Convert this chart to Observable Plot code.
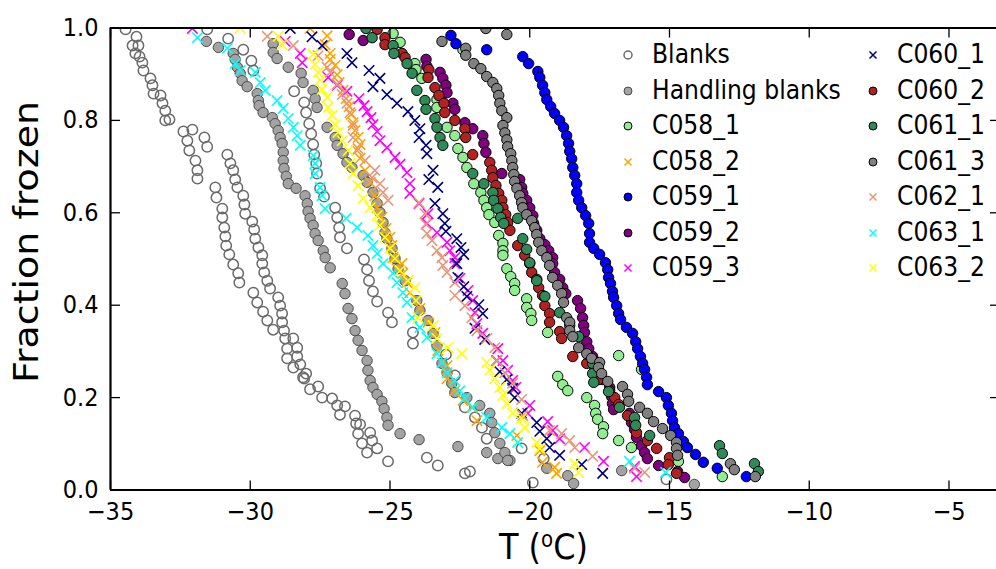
<!DOCTYPE html>
<html><head><meta charset="utf-8">
<script src="https://cdn.jsdelivr.net/npm/d3@7"></script>
<script src="https://cdn.jsdelivr.net/npm/@observablehq/plot@0.6"></script>
<style>
body{margin:0;background:#fff;}
#wrap{position:relative;width:996px;height:569px;overflow:hidden;font-family:"DejaVu Sans",sans-serif;}
.leg{position:absolute;font-size:23.5px;line-height:1;color:#000;white-space:nowrap;display:flex;align-items:center;height:24px;}
.leg svg{flex:none;}
.leg span{margin-left:18px;display:inline-block;transform:scaleY(1.15);}
</style></head><body><div id="wrap"></div>
<script>
// ---- data: [temperature °C, fraction frozen] ----
const blanks = [
[-34.46,0.997],[-34.07,0.981],[-34.21,0.962],[-34.00,0.962],[-34.11,0.945],[-33.96,0.938],[-33.86,0.925],[-33.82,0.908],[-33.57,0.891],[-33.50,0.876],[-33.46,0.858],[-33.21,0.854],[-33.14,0.837],[-33.04,0.821],[-33.04,0.800],[-32.89,0.802],[-32.39,0.776],[-32.07,0.780],[-32.25,0.756],[-31.64,0.763],[-32.18,0.735],[-31.54,0.743],[-31.96,0.713],[-31.89,0.692],[-31.89,0.674],
[-31.25,0.655],[-31.21,0.633],[-31.00,0.609],[-31.00,0.590],[-30.93,0.568],[-30.89,0.549],[-30.86,0.529],[-30.75,0.510],[-30.61,0.488],[-30.43,0.469],[-30.39,0.449],[-29.89,0.427],[-29.75,0.406],[-29.54,0.386],[-29.39,0.367],[-29.18,0.347],[-28.75,0.328],[-28.68,0.306],[-28.68,0.285],[-28.46,0.265],[-28.11,0.244],[-27.86,0.218],[-27.57,0.224],[-27.43,0.200],[-27.07,0.198],[-26.89,0.183],[-26.61,0.181],[-26.79,0.163],
[-31.54,0.997],[-30.82,0.726],[-30.71,0.707],[-30.61,0.692],[-30.54,0.672],[-30.46,0.655],[-30.25,0.637],[-30.21,0.618],[-30.18,0.598],[-29.93,0.581],[-29.86,0.564],[-29.82,0.544],[-29.71,0.525],[-29.57,0.508],[-29.57,0.490],[-29.50,0.471],[-29.39,0.453],[-29.29,0.436],[-29.00,0.417],[-28.93,0.399],[-28.86,0.382],[-28.86,0.363],[-28.79,0.345],[-28.46,0.328],[-28.32,0.308],[-28.32,0.289],[-28.21,0.272],[-28.00,0.252],[-28.07,0.241],
[-30.79,0.977],[-30.25,0.953],[-29.96,0.929],[-29.89,0.908],[-28.43,0.863],[-28.07,0.839],[-28.00,0.817],[-27.89,0.793],[-27.82,0.771],[-27.75,0.748],[-27.71,0.726],[-27.64,0.707],[-27.61,0.685],[-27.50,0.653],[-27.36,0.635],[-26.96,0.611],[-26.89,0.590],[-26.82,0.568],[-26.79,0.547],[-26.54,0.523],[-25.93,0.499],[-25.82,0.477],[-25.75,0.453],[-25.61,0.430],[-25.46,0.408],[-25.07,0.384],[-24.93,0.363],[-24.18,0.341],[-24.18,0.317],
[-26.25,0.161],[-26.21,0.144],[-26.07,0.142],[-26.14,0.122],[-25.71,0.124],[-25.64,0.107],[-26.00,0.101],[-25.46,0.090],[-25.82,0.081],[-25.07,0.062],[-23.68,0.070],[-23.29,0.053],[-22.32,0.036],[-22.14,0.040],
[-23.00,0.293],[-22.68,0.248],[-22.32,0.179],[-21.96,0.157],[-21.71,0.135],[-21.54,0.111],[-20.29,0.090],[-19.50,0.068],[-19.89,0.016],[-15.11,0.023]
];
const handlingBlanks = [
[-31.57,0.971],[-31.14,0.958],[-30.61,0.945],[-30.54,0.932],[-30.46,0.915],[-30.36,0.902],[-30.29,0.886],[-30.11,0.873],[-29.75,0.858],[-29.71,0.843],[-29.68,0.832],[-29.54,0.817],[-29.21,0.806],[-29.11,0.793],[-29.00,0.778],[-28.93,0.763],[-28.86,0.750],[-28.82,0.731],[-28.82,0.713],[-28.79,0.696],[-28.71,0.679],[-28.64,0.663],[-28.36,0.653],[-28.04,0.637],[-27.96,0.620],[-27.93,0.603],[-27.86,0.588],[-27.75,0.573],[-27.68,0.555],[-27.57,0.540],[-27.39,0.518],[-27.32,0.503],[-27.14,0.481],[-26.71,0.447],[-26.61,0.425],[-26.50,0.393],[-26.36,0.371],[-26.25,0.345],[-26.14,0.324],[-26.00,0.302],[-25.82,0.280],[-25.79,0.259],[-25.71,0.237],[-25.61,0.222],[-25.46,0.207],[-25.29,0.192],[-25.21,0.176],[-25.11,0.157],[-25.07,0.140],[-24.64,0.122],[-23.96,0.109],[-22.57,0.094],[-21.54,0.081],[-21.14,0.068],[-20.71,0.064],
[-29.18,0.966],[-29.18,0.947],[-29.04,0.934],[-28.64,0.915],[-28.18,0.902],[-28.11,0.882],[-27.75,0.865],[-27.68,0.847],[-27.61,0.828],[-27.25,0.785],[-26.96,0.763],[-26.89,0.746],[-26.68,0.728],[-26.54,0.709],[-26.36,0.698],[-25.96,0.681],[-25.82,0.666],[-25.61,0.644],[-25.46,0.620],[-25.36,0.601],[-25.25,0.579],[-25.18,0.557],[-25.11,0.544],[-24.93,0.523],[-24.82,0.501],[-24.71,0.479],[-24.46,0.453],[-24.04,0.410],[-23.93,0.389],[-23.64,0.367],[-23.46,0.339],[-23.32,0.313],[-23.14,0.274],[-22.96,0.254],[-22.79,0.231],[-22.68,0.211],[-22.25,0.200],[-21.79,0.183],[-21.43,0.166],[-21.36,0.146],[-21.25,0.124],[-21.07,0.101],[-20.89,0.081],[-20.79,0.064],[-19.39,0.047],[-18.64,0.031],[-18.43,0.014],[-16.71,0.042],[-14.11,0.012]
];
const c058_1 = [
[-24.89,0.988],[-24.64,0.969],[-22.39,0.953],[-24.11,0.923],[-24.07,0.910],[-23.86,0.891],[-23.32,0.845],[-23.32,0.828],[-22.96,0.785],[-22.68,0.767],[-22.57,0.739],[-22.39,0.720],[-22.25,0.698],[-22.00,0.663],[-21.75,0.644],[-21.64,0.627],[-21.54,0.611],[-21.46,0.596],[-21.25,0.579],[-21.11,0.551],[-20.96,0.534],[-20.96,0.518],[-20.96,0.508],[-20.82,0.479],[-20.68,0.462],[-20.54,0.447],[-20.54,0.432],[-20.11,0.414],[-20.11,0.395],[-19.96,0.382],[-19.93,0.367],[-19.36,0.341],[-16.82,0.291],[-16.00,0.261],[-19.00,0.246],[-18.82,0.228],[-18.64,0.215],[-17.96,0.200],[-17.68,0.183],[-17.64,0.166],[-17.57,0.153],[-17.36,0.137],[-17.39,0.122],[-16.82,0.107],[-16.36,0.092],[-14.68,0.062],[-13.11,0.029]
];
const c058_2 = [
[-27.86,0.999],[-27.25,0.983],[-27.32,0.964],[-27.14,0.945],[-27.14,0.932],[-26.96,0.919],[-26.89,0.899],[-26.82,0.882],[-26.68,0.865],[-26.57,0.847],[-26.46,0.830],[-26.39,0.813],[-26.32,0.795],[-26.25,0.778],[-26.14,0.763],[-26.07,0.748],[-26.18,0.735],[-26.07,0.718],[-25.89,0.692],[-25.71,0.666],[-25.54,0.637],[-25.46,0.611],[-25.29,0.590],[-25.14,0.566],[-25.00,0.547],[-24.93,0.529],[-24.89,0.503],[-24.57,0.490],[-24.75,0.479],[-24.54,0.469],[-24.39,0.449],[-24.29,0.427],[-23.93,0.393],[-23.64,0.363],[-23.39,0.341],[-23.29,0.302],[-22.96,0.269],[-22.96,0.241],[-22.68,0.215],[-22.39,0.194],[-22.07,0.179],[-21.89,0.150],[-20.46,0.118],[-19.64,0.085],[-19.54,0.060],[-19.11,0.049],[-19.04,0.036]
];
const c059_1 = [
[-22.82,0.984],[-22.64,0.966],[-21.54,0.953],[-20.25,0.938],[-20.04,0.923],[-19.71,0.906],[-19.64,0.893],[-19.54,0.876],[-19.46,0.860],[-19.39,0.845],[-19.25,0.830],[-19.11,0.815],[-18.93,0.800],[-18.79,0.785],[-18.68,0.767],[-18.61,0.750],[-18.57,0.733],[-18.50,0.717],[-18.46,0.698],[-18.39,0.681],[-18.32,0.663],[-18.32,0.644],[-18.25,0.627],[-18.14,0.611],[-18.00,0.594],[-17.89,0.577],[-17.86,0.555],[-17.86,0.536],[-17.71,0.523],[-17.50,0.510],[-17.29,0.492],[-17.21,0.477],[-17.18,0.460],[-17.11,0.447],[-17.04,0.430],[-17.00,0.417],[-16.89,0.399],[-16.82,0.382],[-16.75,0.369],[-16.54,0.352],[-16.32,0.339],[-16.21,0.321],[-16.14,0.306],[-16.04,0.289],[-15.96,0.274],[-15.89,0.261],[-15.82,0.244],[-15.79,0.228],[-15.39,0.213],[-15.11,0.200],[-15.04,0.183],[-14.93,0.166],[-14.89,0.150],[-14.82,0.135],[-14.68,0.122],[-14.50,0.105],[-14.36,0.092],[-14.07,0.077],[-13.79,0.060],[-13.29,0.047],[-12.25,0.029]
];
const c059_2 = [
[-26.46,0.986],[-25.96,0.973],[-23.71,0.932],[-23.68,0.917],[-23.21,0.904],[-23.11,0.891],[-23.00,0.876],[-22.96,0.860],[-22.75,0.837],[-22.68,0.824],[-22.32,0.795],[-22.04,0.782],[-21.68,0.767],[-21.64,0.750],[-21.57,0.731],[-21.00,0.685],[-20.36,0.672],[-20.29,0.655],[-20.25,0.642],[-20.11,0.627],[-20.00,0.611],[-19.89,0.594],[-19.86,0.577],[-19.75,0.562],[-19.64,0.544],[-19.46,0.531],[-19.32,0.518],[-19.18,0.503],[-19.18,0.490],[-19.11,0.471],[-18.93,0.456],[-18.82,0.438],[-18.71,0.425],[-18.29,0.410],[-18.18,0.393],[-18.11,0.373],[-18.07,0.356],[-18.04,0.341],[-17.96,0.321],[-17.89,0.306],[-17.75,0.289],[-17.71,0.272],[-17.57,0.254],[-17.39,0.239],[-17.14,0.222],[-17.07,0.202],[-17.04,0.187],[-17.00,0.174],[-16.43,0.166],[-16.36,0.146],[-16.25,0.131],[-16.18,0.114],[-16.00,0.096],[-15.89,0.081],[-15.79,0.068],[-15.39,0.053],[-14.71,0.040],[-14.46,0.027]
];
const c059_3 = [
[-32.07,0.999],[-28.75,0.971],[-28.21,0.945],[-28.14,0.925],[-27.21,0.893],[-26.89,0.876],[-26.54,0.863],[-26.11,0.847],[-25.93,0.832],[-25.82,0.819],[-25.68,0.806],[-25.61,0.791],[-25.46,0.776],[-25.36,0.756],[-25.11,0.741],[-24.82,0.720],[-24.64,0.705],[-24.39,0.687],[-24.29,0.663],[-24.29,0.642],[-23.96,0.620],[-23.64,0.598],[-23.68,0.577],[-23.32,0.557],[-22.96,0.536],[-22.86,0.518],[-22.68,0.503],[-22.68,0.490],[-22.50,0.458],[-22.21,0.432],[-22.04,0.410],[-21.96,0.384],[-21.89,0.360],[-21.68,0.339],[-21.14,0.306],[-20.96,0.280],[-20.79,0.259],[-20.61,0.237],[-20.50,0.222],[-20.00,0.183],[-20.07,0.166],[-19.36,0.148],[-19.18,0.129],[-18.93,0.111],[-18.04,0.092],[-17.36,0.062],[-16.25,0.051],[-16.18,0.029]
];
const c060_1 = [
[-28.57,0.999],[-27.79,0.981],[-27.43,0.962],[-26.54,0.945],[-26.36,0.925],[-25.75,0.908],[-25.36,0.891],[-25.61,0.873],[-25.11,0.856],[-24.75,0.837],[-24.36,0.819],[-24.11,0.800],[-23.93,0.782],[-23.96,0.763],[-23.71,0.746],[-23.68,0.728],[-23.46,0.692],[-23.61,0.672],[-23.29,0.655],[-23.39,0.620],[-23.11,0.598],[-23.04,0.577],[-23.00,0.560],[-22.61,0.544],[-22.46,0.525],[-22.36,0.510],[-22.61,0.490],[-22.57,0.460],[-22.36,0.440],[-22.25,0.419],[-21.82,0.401],[-21.68,0.382],[-21.96,0.350],[-21.61,0.326],[-21.18,0.280],[-21.07,0.256],[-20.82,0.239],[-20.61,0.220],[-20.54,0.200],[-20.29,0.166],[-19.75,0.146],[-19.64,0.127],[-19.39,0.111],[-19.29,0.092],[-18.93,0.075],[-18.14,0.055],[-17.39,0.036]
];
const c060_2 = [
[-25.46,0.997],[-25.18,0.979],[-25.18,0.964],[-24.57,0.945],[-24.46,0.936],[-23.61,0.910],[-23.64,0.893],[-23.39,0.871],[-23.25,0.854],[-23.07,0.837],[-23.04,0.817],[-22.68,0.800],[-22.32,0.782],[-22.29,0.763],[-22.04,0.726],[-21.43,0.709],[-21.36,0.692],[-21.32,0.676],[-21.21,0.659],[-21.11,0.642],[-21.00,0.627],[-20.96,0.611],[-20.86,0.596],[-20.79,0.579],[-20.71,0.562],[-20.43,0.529],[-20.18,0.508],[-20.00,0.490],[-19.93,0.471],[-19.75,0.456],[-19.68,0.438],[-19.54,0.421],[-19.46,0.399],[-19.29,0.382],[-19.29,0.363],[-18.93,0.343],[-18.86,0.328],[-18.46,0.289],[-17.96,0.274],[-17.68,0.259],[-17.54,0.239],[-17.14,0.215],[-16.96,0.200],[-16.82,0.185],[-16.50,0.161],[-16.25,0.144],[-16.18,0.124],[-15.79,0.107],[-15.46,0.090],[-15.00,0.070],[-15.04,0.055],[-14.75,0.036]
];
const c061_1 = [
[-25.86,0.999],[-25.64,0.979],[-24.89,0.962],[-24.86,0.945],[-24.39,0.923],[-24.21,0.902],[-24.04,0.865],[-23.75,0.843],[-23.71,0.824],[-23.39,0.804],[-23.32,0.785],[-23.21,0.763],[-23.11,0.746],[-22.04,0.685],[-21.64,0.663],[-21.32,0.644],[-21.29,0.627],[-21.14,0.609],[-21.04,0.590],[-20.93,0.577],[-20.43,0.588],[-20.25,0.544],[-20.11,0.521],[-20.00,0.492],[-19.75,0.453],[-19.46,0.419],[-18.93,0.384],[-18.57,0.356],[-18.25,0.332],[-17.93,0.293],[-17.75,0.274],[-17.75,0.252],[-17.71,0.233],[-17.18,0.213],[-16.79,0.179],[-16.25,0.157],[-16.21,0.140],[-15.71,0.118],[-13.21,0.096],[-13.11,0.079],[-11.96,0.057],[-11.82,0.040]
];
const c061_3 = [
[-21.57,0.999],[-20.82,0.986],[-23.14,0.971],[-22.29,0.956],[-22.29,0.941],[-22.00,0.923],[-21.75,0.912],[-21.54,0.895],[-21.32,0.882],[-21.18,0.869],[-21.11,0.854],[-21.07,0.837],[-21.00,0.821],[-20.82,0.806],[-20.96,0.789],[-20.89,0.773],[-20.82,0.758],[-20.79,0.743],[-20.68,0.728],[-20.64,0.713],[-20.61,0.698],[-20.57,0.683],[-20.54,0.668],[-20.46,0.653],[-20.36,0.637],[-20.29,0.622],[-20.25,0.611],[-20.11,0.596],[-19.93,0.583],[-19.82,0.568],[-19.75,0.553],[-19.68,0.536],[-19.57,0.518],[-19.39,0.503],[-19.29,0.486],[-19.18,0.460],[-19.00,0.443],[-18.86,0.425],[-18.79,0.406],[-18.68,0.373],[-18.57,0.363],[-18.57,0.345],[-18.46,0.332],[-18.25,0.308],[-17.96,0.295],[-17.79,0.285],[-17.50,0.276],[-17.54,0.265],[-17.43,0.252],[-17.21,0.235],[-16.68,0.224],[-16.50,0.207],[-16.46,0.192],[-16.07,0.179],[-15.79,0.166],[-15.57,0.148],[-15.25,0.133],[-14.96,0.118],[-14.75,0.103],[-14.75,0.090],[-14.71,0.075],[-12.82,0.057],[-12.68,0.044],[-11.93,0.029]
];
const c062_1 = [
[-29.39,0.982],[-28.46,0.962],[-27.57,0.940],[-27.25,0.915],[-27.14,0.904],[-26.89,0.878],[-26.71,0.856],[-26.54,0.837],[-26.43,0.817],[-26.32,0.789],[-26.32,0.763],[-26.14,0.739],[-25.89,0.713],[-25.54,0.692],[-25.64,0.676],[-25.36,0.663],[-25.25,0.644],[-25.07,0.627],[-23.96,0.622],[-23.75,0.598],[-23.71,0.575],[-23.68,0.555],[-23.50,0.540],[-23.32,0.518],[-23.14,0.503],[-23.11,0.486],[-22.96,0.471],[-22.68,0.449],[-22.68,0.421],[-22.32,0.399],[-22.07,0.373],[-21.89,0.345],[-21.54,0.328],[-21.25,0.308],[-21.18,0.280],[-20.89,0.254],[-20.61,0.231],[-20.29,0.196],[-20.25,0.161],[-19.29,0.129],[-18.86,0.122],[-18.57,0.107],[-18.39,0.092],[-17.75,0.073],[-16.25,0.047],[-15.89,0.038]
];
const c063_1 = [
[-31.89,0.979],[-30.82,0.956],[-30.54,0.923],[-30.36,0.908],[-29.82,0.904],[-29.64,0.882],[-29.46,0.865],[-29.04,0.843],[-28.82,0.826],[-28.64,0.804],[-28.46,0.785],[-28.32,0.767],[-28.21,0.746],[-27.75,0.724],[-27.68,0.707],[-27.68,0.685],[-27.50,0.655],[-27.43,0.637],[-27.32,0.609],[-26.57,0.588],[-26.18,0.568],[-25.79,0.551],[-25.61,0.529],[-25.46,0.512],[-25.25,0.490],[-24.89,0.469],[-24.75,0.449],[-24.54,0.427],[-24.39,0.406],[-24.21,0.373],[-23.93,0.352],[-23.68,0.330],[-23.32,0.295],[-23.14,0.276],[-22.96,0.254],[-22.68,0.237],[-22.50,0.215],[-22.32,0.198],[-22.04,0.179],[-21.54,0.157],[-21.00,0.135],[-20.71,0.122],[-20.43,0.103],[-16.43,0.062],[-15.14,0.038]
];
const c063_2 = [
[-30.36,1.000],[-29.00,0.982],[-28.86,0.964],[-27.75,0.943],[-27.68,0.921],[-27.57,0.904],[-27.50,0.887],[-27.43,0.867],[-27.25,0.850],[-27.21,0.828],[-27.07,0.811],[-26.96,0.791],[-26.86,0.774],[-26.71,0.756],[-26.50,0.735],[-26.43,0.707],[-26.32,0.685],[-26.14,0.659],[-25.96,0.631],[-25.71,0.611],[-25.46,0.594],[-25.36,0.573],[-25.18,0.547],[-25.00,0.523],[-24.82,0.501],[-24.64,0.475],[-24.36,0.453],[-24.11,0.438],[-24.07,0.410],[-24.00,0.373],[-23.46,0.356],[-23.32,0.328],[-22.93,0.308],[-22.43,0.295],[-21.54,0.276],[-21.43,0.259],[-21.25,0.241],[-21.07,0.222],[-20.96,0.205],[-20.82,0.187],[-20.61,0.166],[-20.29,0.155],[-20.18,0.135],[-19.75,0.103],[-19.64,0.090],[-18.39,0.057],[-18.25,0.038]
];

const seriesNames = ["Blanks","Handling blanks","C058_1","C058_2","C059_1","C059_2","C059_3",
                     "C060_1","C060_2","C061_1","C061_3","C062_1","C063_1","C063_2"];
const seriesData = {"Blanks":blanks,"Handling blanks":handlingBlanks,"C058_1":c058_1,"C058_2":c058_2,
  "C059_1":c059_1,"C059_2":c059_2,"C059_3":c059_3,"C060_1":c060_1,"C060_2":c060_2,
  "C061_1":c061_1,"C061_3":c061_3,"C062_1":c062_1,"C063_1":c063_1,"C063_2":c063_2};
const xTicks = [-35,-30,-25,-20,-15,-10,-5];
const yTicks = [0.0,0.2,0.4,0.6,0.8,1.0];

// ---- styles ----
const styles = {
  "Blanks":         {kind:"o", fill:"none",    stroke:"#6a6a6a", sw:1.5},
  "Handling blanks":{kind:"o", fill:"#a3a3a3", stroke:"#4a4a4a", sw:1},
  "C058_1":         {kind:"o", fill:"#90ee90", stroke:"#000", sw:1},
  "C058_2":         {kind:"x", stroke:"#ffa500"},
  "C059_1":         {kind:"o", fill:"#0000ff", stroke:"#000", sw:1},
  "C059_2":         {kind:"o", fill:"#800080", stroke:"#000", sw:1},
  "C059_3":         {kind:"x", stroke:"#ff00ff"},
  "C060_1":         {kind:"x", stroke:"#000080"},
  "C060_2":         {kind:"o", fill:"#b22222", stroke:"#000", sw:1},
  "C061_1":         {kind:"o", fill:"#2e8b57", stroke:"#000", sw:1},
  "C061_3":         {kind:"o", fill:"#808080", stroke:"#000", sw:1},
  "C062_1":         {kind:"x", stroke:"#e9967a"},
  "C063_1":         {kind:"x", stroke:"#00ffff"},
  "C063_2":         {kind:"x", stroke:"#ffff00"}
};

const dotMarks = seriesNames.map(name => {
  const s = styles[name];
  const rows = seriesData[name].map(([T, f]) => ({T, f}));
  if (s.kind === "o") {
    return Plot.dot(rows, {x:"T", y:"f", r:5.2, fill:s.fill, stroke:s.stroke, strokeWidth:s.sw, clip:true});
  }
  return Plot.dot(rows, {x:"T", y:"f", r:4.8, symbol:"times", stroke:s.stroke, strokeWidth:1.6, clip:true});
});

const FONT = "DejaVu Sans";
const X_LABEL = "T (oC)";
const chart = Plot.plot({
  width: 996, height: 569,
  marginLeft: 110, marginRight: 0, marginTop: 27.5, marginBottom: 79.5,
  x: {domain: [-35, -3.3]},
  y: {domain: [0, 1]},
  style: {fontFamily: FONT, background: "#fff", color: "#000", overflow: "visible"},
  marks: [
    ...dotMarks,
    Plot.ruleX([-35], {strokeWidth: 2.2}),
    Plot.ruleY([0, 1], {strokeWidth: 2.2}),
    Plot.axisX(xTicks, {anchor: "bottom", tickSize: -9, tickPadding: 21, fontSize: 22.5, label: null, strokeWidth: 1.3}),
    Plot.axisX(xTicks, {anchor: "top", tickSize: -9, tickFormat: () => "", label: null, strokeWidth: 1.3}),
    Plot.axisY(yTicks, {anchor: "left", tickSize: -10, tickPadding: 22, tickFormat: d3.format(".1f"), fontSize: 22.5, label: null, strokeWidth: 1.3}),
    Plot.axisY(yTicks, {anchor: "right", tickSize: -7, tickFormat: () => "", label: null, strokeWidth: 1.3}),
    Plot.text(["Fraction frozen"], {frameAnchor: "left", textAnchor: "middle", rotate: -90, dx: -83, dy: -17, fontSize: 33}),
    Plot.text([X_LABEL], {frameAnchor: "bottom", dy: 69, dx: -10, fontSize: 32})
  ]
});
// the reference picture is slightly stretched vertically: stretch the glyphs the same way
chart.querySelectorAll("text").forEach(t => {
  const tr = t.getAttribute("transform");
  if (tr == null) return;
  t.setAttribute("transform", tr + (tr.includes("rotate") ? " scale(1.15,1)" : " scale(1,1.12)"));
  // superscript "o" in the axis unit, as in the reference
  if (t.textContent === X_LABEL) {
    t.innerHTML = 'T (<tspan font-size="0.62em" dy="-0.55em">o</tspan><tspan dy="0.34em">C)</tspan>';
  }
});
const wrap = document.getElementById("wrap");
wrap.appendChild(chart);

// ---- legend (HTML overlay) ----
seriesNames.forEach((name, i) => {
  const s = styles[name];
  const col = i < 7 ? 0 : 1, row = i % 7;
  const cx = col === 0 ? 628 : 873;
  const cy = 55 + row * 35.5;
  const el = document.createElement("div");
  el.className = "leg";
  el.style.left = (cx - 6) + "px";
  el.style.top = (cy - 12) + "px";
  const mk = s.kind === "o"
    ? `<circle cx="6" cy="6" r="4" fill="${s.fill}" stroke="${s.stroke}" stroke-width="${s.sw}"/>`
    : `<path d="M2.5,2.5L9.5,9.5M9.5,2.5L2.5,9.5" stroke="${s.stroke}" stroke-width="1.5"/>`;
  el.innerHTML = `<svg width="12" height="12">${mk}</svg><span>${name}</span>`;
  wrap.appendChild(el);
});
</script></body></html>
